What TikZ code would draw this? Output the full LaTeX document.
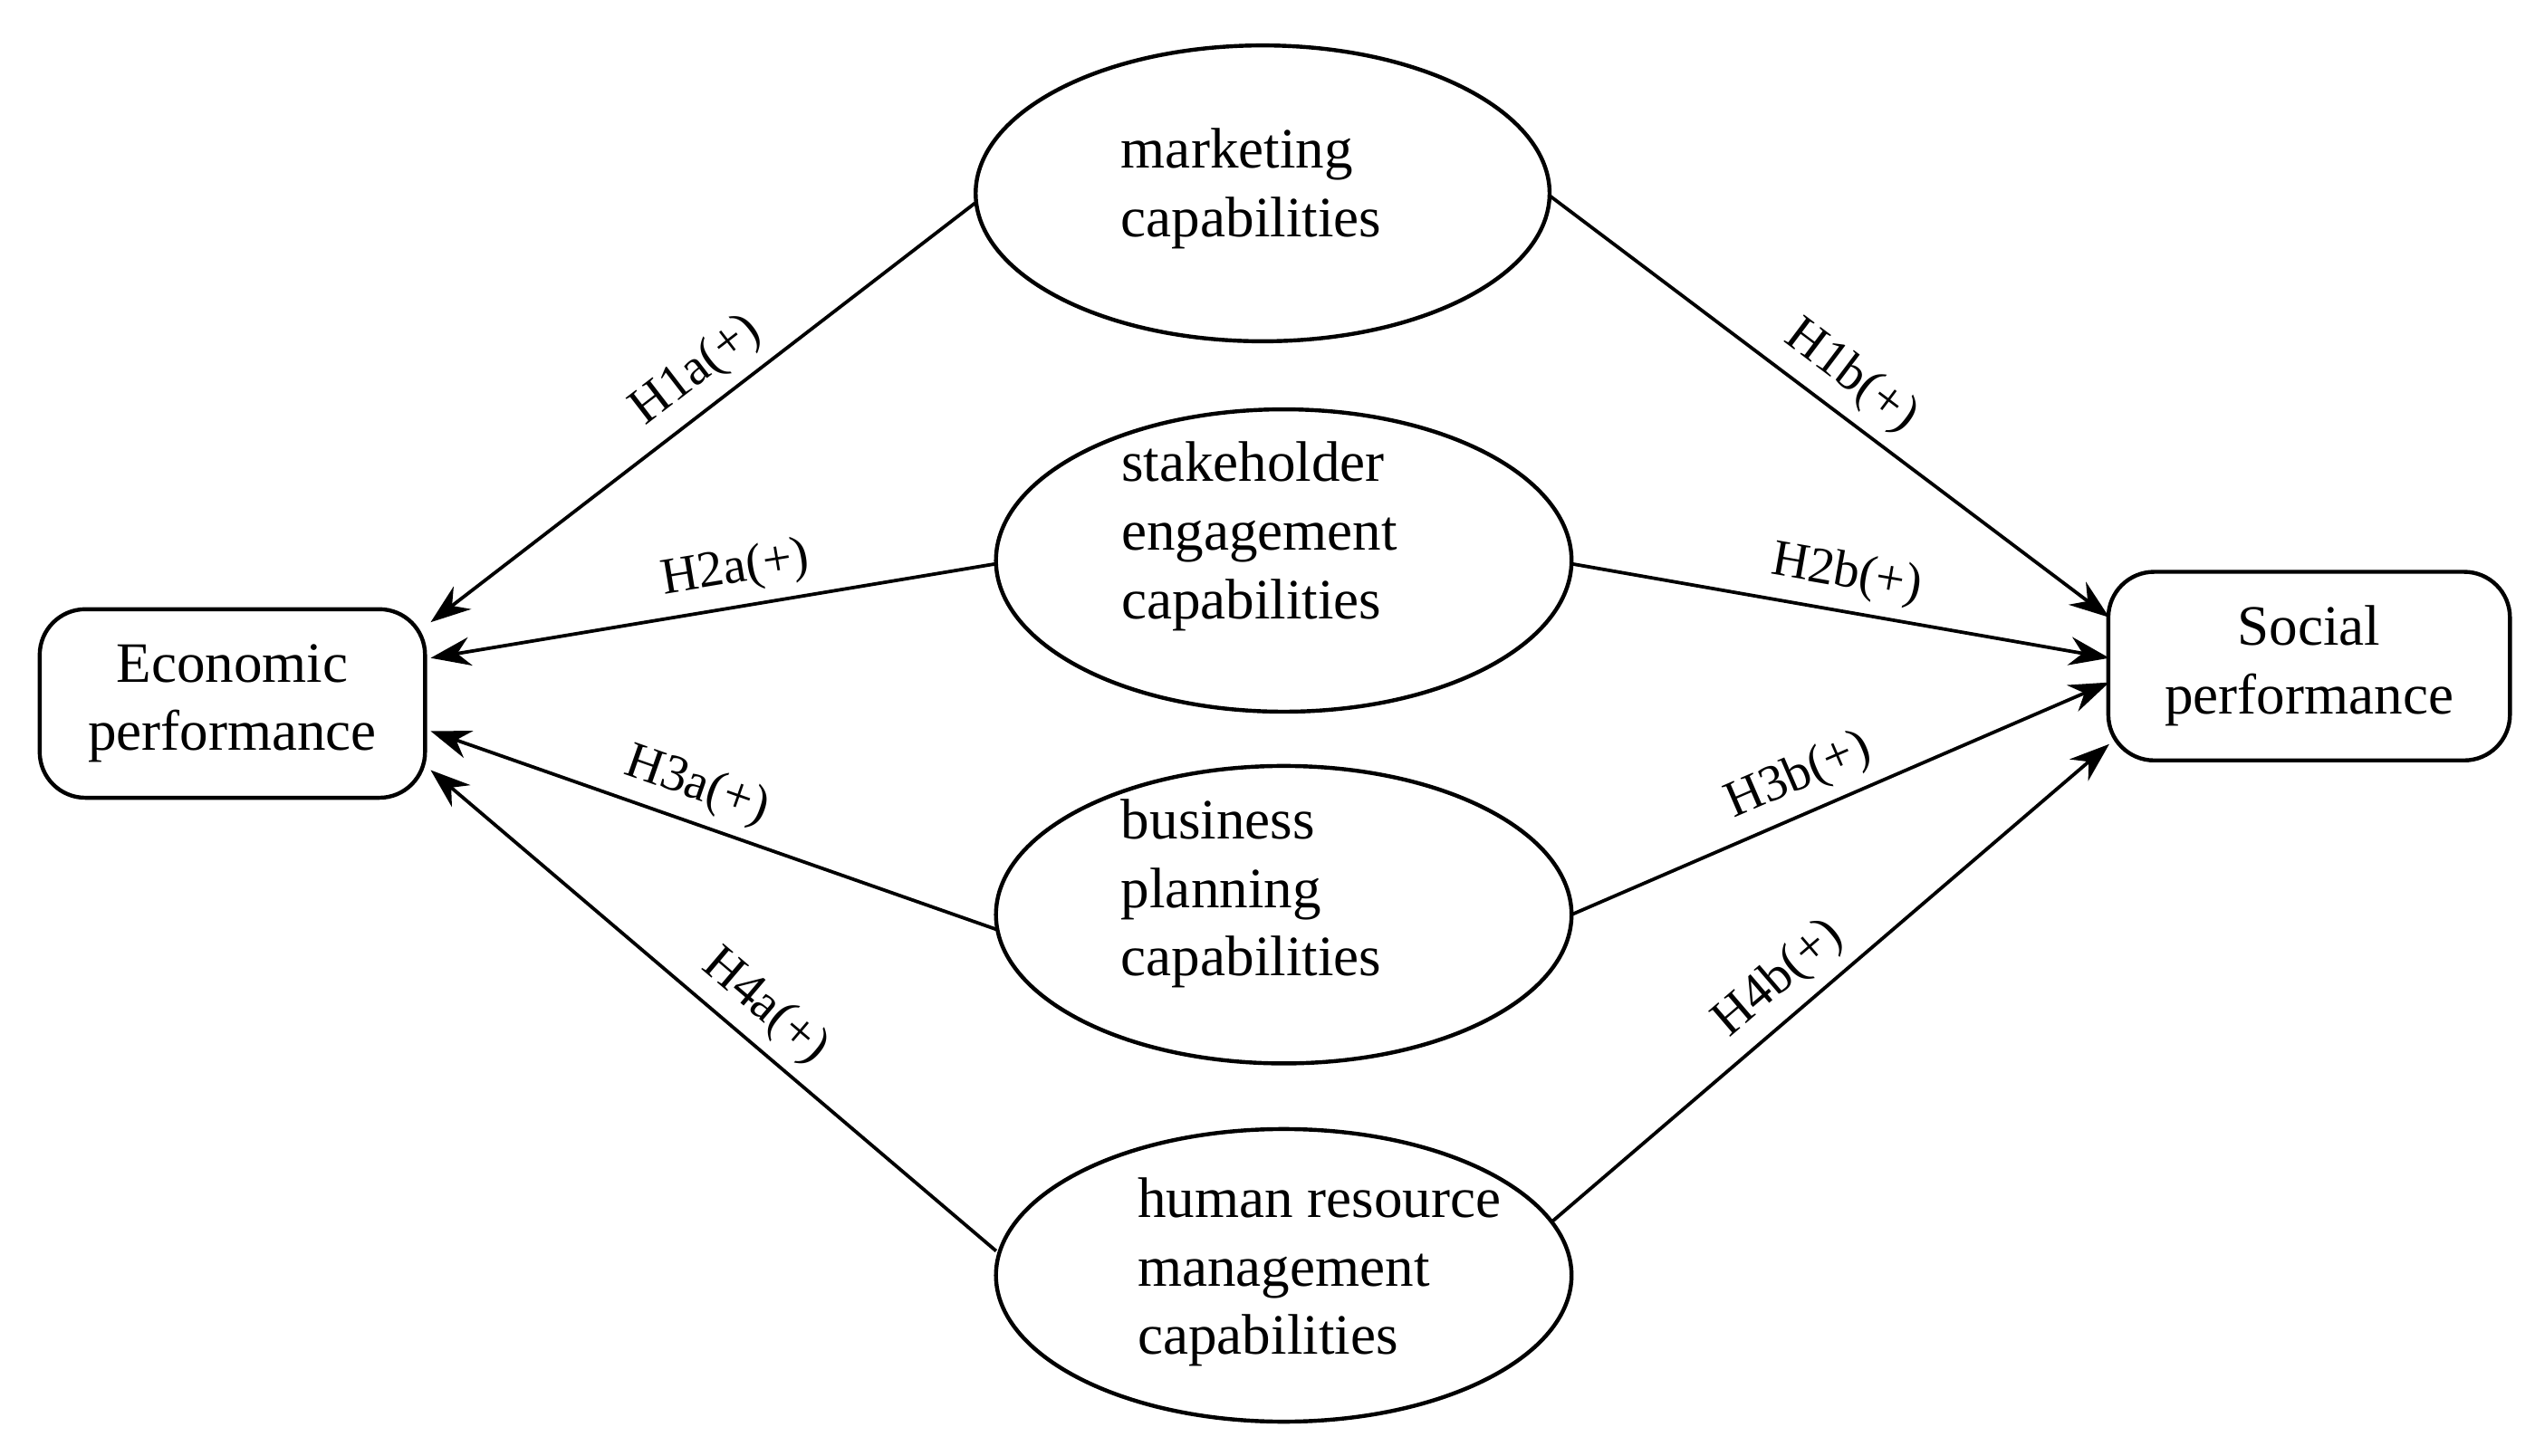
\documentclass[tikz,border=0pt]{standalone}
\usepackage{fontspec}
\setmainfont{Liberation Serif}
\usetikzlibrary{shapes.geometric,arrows.meta}
\begin{document}
\begin{tikzpicture}[x=0.01cm,y=-0.01cm,
  box/.style={draw,rounded corners=8pt,line width=0.7pt,minimum width=2.37cm,minimum height=1.16cm,align=center,font=\fontsize{10}{12}\selectfont},
  ell/.style={draw,ellipse,line width=0.7pt,minimum width=3.54cm,minimum height=1.84cm},
  txt/.style={align=left,font=\fontsize{10}{12}\selectfont},
  arr/.style={-{Stealth[length=7pt,width=5pt]},line width=0.6pt},
  lab/.style={sloped,above,font=\fontsize{9}{11}\selectfont,inner sep=2pt}]
\useasboundingbox (0,0) rectangle (1560,896);
\node[box] (econ) at (143,433) {Economic\\performance};
\node[box,minimum width=2.47cm] (soc) at (1421,410) {Social\\performance};
\node[ell,minimum width=3.53cm,minimum height=1.82cm] (m) at (777,119) {};
\node[txt] (mt) at (770,116) {marketing\\capabilities};
\node[ell,minimum height=1.86cm] (s) at (790,345) {};
\node[txt] (st) at (775,330) {stakeholder\\engagement\\capabilities};
\node[ell,minimum height=1.83cm] (b) at (790,563) {};
\node[txt] (bt) at (770,550) {business\\planning\\capabilities};
\node[ell,minimum height=1.80cm] (h) at (790,785) {};
\node[txt] (ht) at (812,783) {human resource\\management\\capabilities};
\coordinate (e1) at (265,383); \coordinate (e2) at (265,405);
\coordinate (e3) at (265,450); \coordinate (e4) at (265,474);
\coordinate (s1) at (1298,380); \coordinate (s2) at (1298,405);
\coordinate (s3) at (1298,420); \coordinate (s4) at (1298,458);
\coordinate (ml) at (600,125); \coordinate (mr) at (953,120);
\coordinate (sl) at (613,347); \coordinate (sr) at (967,347);
\coordinate (bl) at (613,572); \coordinate (br) at (967,563);
\coordinate (hl) at (613,770); \coordinate (hr) at (955,752);
\draw[arr] (ml) -- node[lab,pos=.47] {H1a(+)} (e1);
\draw[arr] (sl) -- node[lab,pos=.45] {H2a(+)} (e2);
\draw[arr] (bl) -- (e3);
\path (e3) -- node[lab,pos=.45] {H3a(+)} (bl);
\draw[arr] (hl) -- (e4);
\path (e4) -- node[lab,pos=.55] {H4a(+)} (hl);
\draw[arr] (mr) -- node[lab,pos=.5] {H1b(+)} (s1);
\draw[arr] (sr) -- node[lab,pos=.5] {H2b(+)} (s2);
\draw[arr] (br) -- node[lab,pos=.45] {H3b(+)} (s3);
\draw[arr] (hr) -- node[lab,pos=.45] {H4b(+)} (s4);
\end{tikzpicture}
\end{document}
